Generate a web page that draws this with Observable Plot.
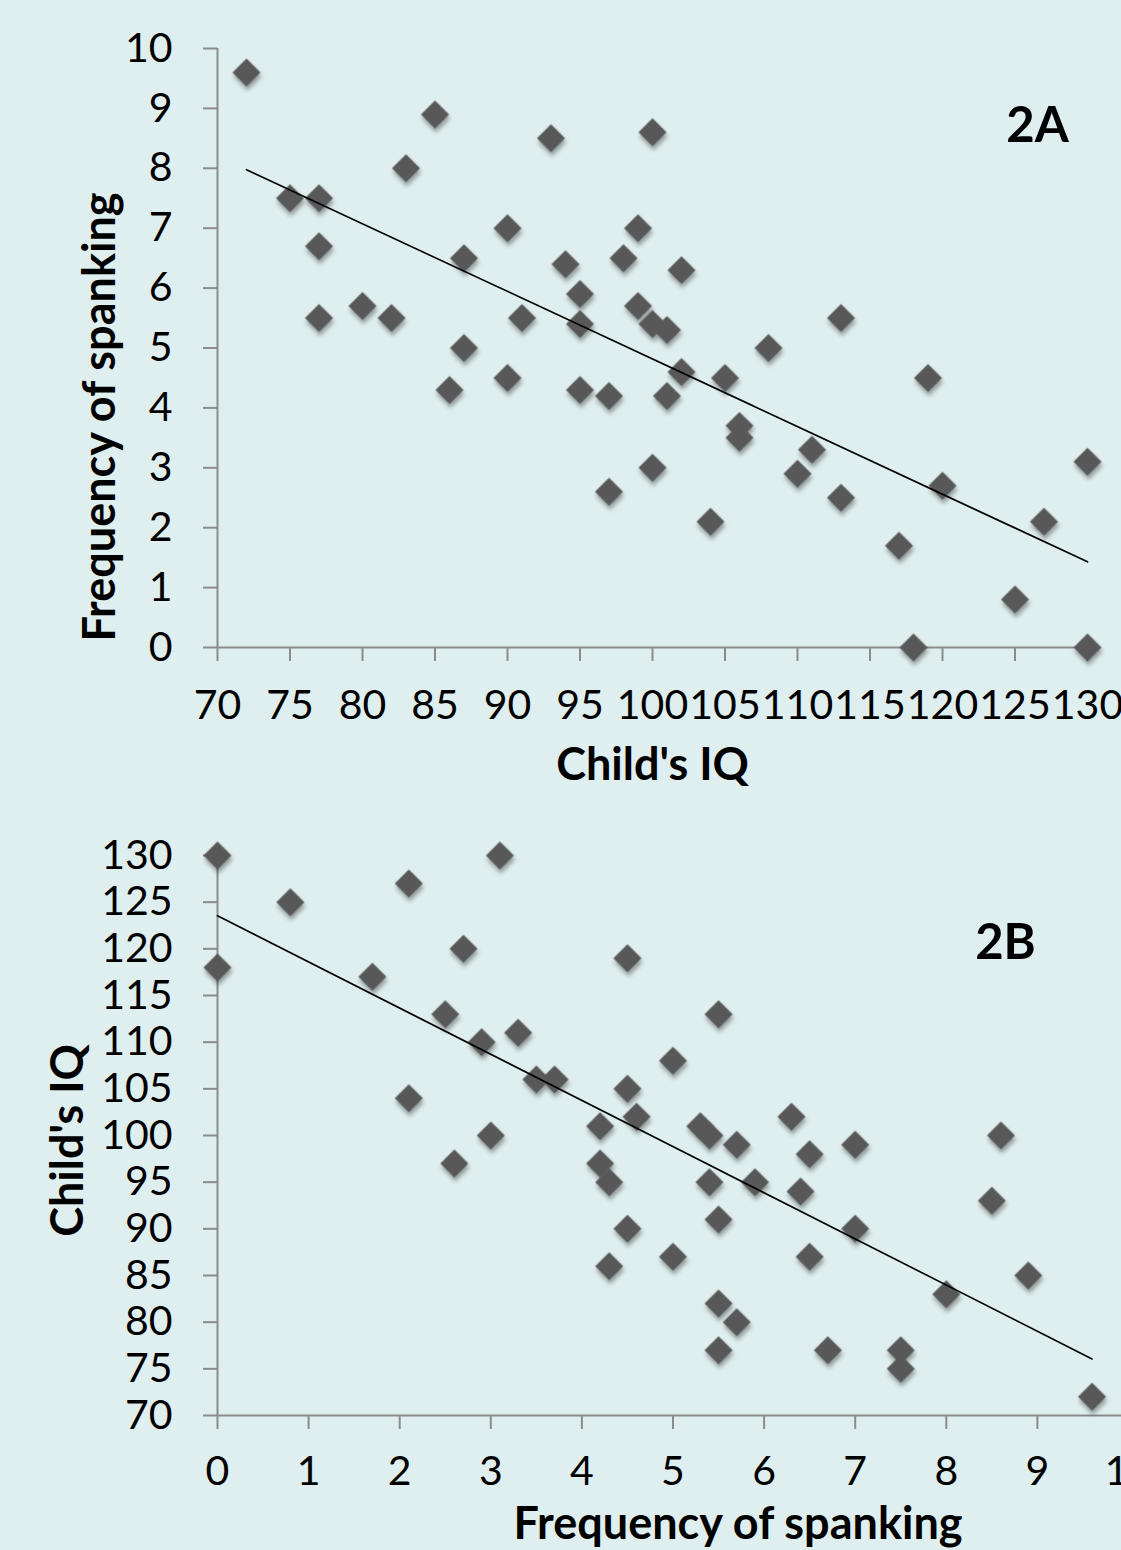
<!DOCTYPE html>
<html>
<head>
<meta charset="utf-8">
<script src="https://cdn.jsdelivr.net/npm/d3@7"></script>
<script src="https://cdn.jsdelivr.net/npm/@observablehq/plot@0.6"></script>
<style>
  html, body { margin: 0; padding: 0; background: #dfeeee; overflow: hidden; }
  #wrap { width: 1121px; height: 1550px; overflow: hidden; background: #dfeeee; }
  svg { display: block; }
</style>
</head>
<body>
<div id="wrap"></div>
<script>
// Child's IQ and frequency of spanking (same children in both panels)
const childIQ = [72, 75, 77, 77, 77, 80, 82, 83, 85, 86, 87, 87, 90, 90, 91, 93, 94, 95, 95, 95,
  97, 97, 98, 99, 99, 100, 100, 100, 101, 101, 102, 102, 104, 105, 106, 106, 108, 110, 111, 113,
  113, 117, 118, 119, 120, 125, 127, 130, 130];
const spanking = [9.6, 7.5, 7.5, 6.7, 5.5, 5.7, 5.5, 8.0, 8.9, 4.3, 6.5, 5.0, 7.0, 4.5, 5.5, 8.5, 6.4, 5.9, 5.4, 4.3,
  4.2, 2.6, 6.5, 7.0, 5.7, 8.6, 5.4, 3.0, 5.3, 4.2, 6.3, 4.6, 2.1, 4.5, 3.7, 3.5, 5.0, 2.9, 3.3, 5.5,
  2.5, 1.7, 0.0, 4.5, 2.7, 0.8, 2.1, 3.1, 0.0];

const iqTicks = [70, 75, 80, 85, 90, 95, 100, 105, 110, 115, 120, 125, 130];
const spankTicks = [0, 1, 2, 3, 4, 5, 6, 7, 8, 9, 10];

const iqLabel = "Child's IQ";
const spankLabel = "Frequency of spanking";
const panelLabels = ["2A", "2B"];

const rows = childIQ.map((iq, i) => ({iq, spank: spanking[i]}));

const FONT = "Lato, 'Open Sans', sans-serif";
const axisGray = "#8c8c8c";
const dotFill = "#585858";
const shadow = "drop-shadow(1px 4px 2px rgba(0,0,0,0.35))";

function panel({x, y, xDomain, yDomain, xTicks, yTicks, xTitle, yTitle, tag,
                height, marginTop, marginBottom, marginRight, xTickPadding,
                xTitleDx, xTitleDy, yTitleDx, yTitleDy, tagDx, tagDy}) {
  return Plot.plot({
    width: 1121,
    height,
    marginLeft: 217,
    marginRight,
    marginTop,
    marginBottom,
    style: {background: "transparent", fontFamily: FONT, fontSize: "41px", color: "black", overflow: "visible"},
    x: {domain: xDomain},
    y: {domain: yDomain},
    marks: [
      Plot.ruleX([xDomain[0]], {stroke: axisGray, strokeWidth: 2}),
      Plot.ruleY([yDomain[0]], {stroke: axisGray, strokeWidth: 2}),
      Plot.axisY({ticks: yTicks, tickSize: 14, tickPadding: 31, stroke: axisGray, strokeWidth: 2,
                  color: "black", fontSize: 41, label: null, tickFormat: d => String(d)}),
      Plot.axisX({ticks: xTicks, tickSize: 14, tickPadding: xTickPadding, stroke: axisGray, strokeWidth: 2,
                  color: "black", fontSize: 41, label: null, tickFormat: d => String(d)}),
      Plot.dot(rows, {x, y, symbol: "diamond2", r: 12.6, fill: dotFill, stroke: null, imageFilter: shadow}),
      Plot.linearRegressionY(rows, {x, y, ci: 0, stroke: "black", strokeWidth: 1.7}),
      Plot.text([xTitle], {frameAnchor: "bottom", textAnchor: "middle", lineAnchor: "top", dx: xTitleDx, dy: xTitleDy,
                           fontWeight: "bold", fontSize: 45, fill: "black"}),
      Plot.text([yTitle], {frameAnchor: "left", textAnchor: "middle", rotate: -90, lineAnchor: "middle",
                           dx: yTitleDx, dy: yTitleDy, fontWeight: "bold", fontSize: 45, fill: "black"}),
      Plot.text([tag], {frameAnchor: "top-right", textAnchor: "middle", lineAnchor: "middle", dx: tagDx, dy: tagDy,
                        fontWeight: "bold", fontSize: 49, fill: "black"})
    ]
  });
}

const wrap = document.getElementById("wrap");

wrap.append(panel({
  x: "iq", y: "spank",
  xDomain: [70, 130], yDomain: [0, 10],
  xTicks: iqTicks, yTicks: spankTicks,
  xTitle: iqLabel, yTitle: spankLabel, tag: panelLabels[0],
  height: 800, marginTop: 48, marginBottom: 153, marginRight: 34, xTickPadding: 28,
  xTitleDx: 0, xTitleDy: 101, yTitleDx: -117, yTitleDy: 69, tagDx: -50, tagDy: 78
}));

wrap.append(panel({
  x: "spank", y: "iq",
  xDomain: [0, 10], yDomain: [70, 130],
  xTicks: spankTicks, yTicks: iqTicks,
  xTitle: spankLabel, yTitle: iqLabel, tag: panelLabels[1],
  height: 750, marginTop: 55, marginBottom: 135, marginRight: -7, xTickPadding: 26,
  xTitleDx: 65, xTitleDy: 92, yTitleDx: -149, yTitleDy: 5, tagDx: -123, tagDy: 88
}));
</script>
</body>
</html>
